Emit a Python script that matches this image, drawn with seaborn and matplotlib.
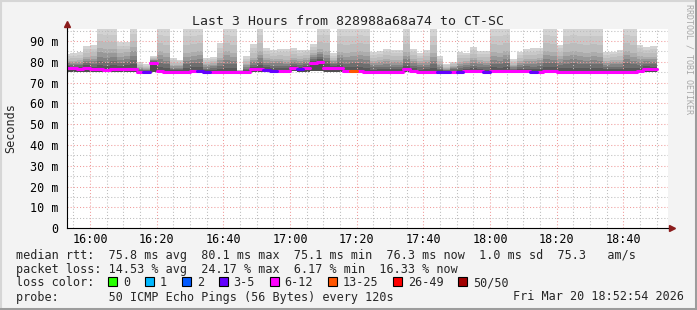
import numpy as np
import pandas as pd
import matplotlib
matplotlib.use("Agg")
import matplotlib.pyplot as plt
import matplotlib.dates as mdates
from matplotlib.patches import Rectangle
from matplotlib.lines import Line2D
from matplotlib.ticker import FuncFormatter, MultipleLocator
import seaborn as sns
from datetime import datetime

# ---------------- data ----------------
day = "2026-03-20"
times = ["15:52", "15:54", "15:56", "15:58",
         "16:00", "16:02", "16:04", "16:06", "16:08", "16:10", "16:12", "16:14", "16:16", "16:18",
         "16:20", "16:22", "16:24", "16:26", "16:28", "16:30", "16:32", "16:34", "16:36", "16:38",
         "16:40", "16:42", "16:44", "16:46", "16:48", "16:50", "16:52", "16:54", "16:56", "16:58",
         "17:00", "17:02", "17:04", "17:06", "17:08", "17:10", "17:12", "17:14", "17:16", "17:18",
         "17:20", "17:22", "17:24", "17:26", "17:28", "17:30", "17:32", "17:34", "17:36", "17:38",
         "17:40", "17:42", "17:44", "17:46", "17:48", "17:50", "17:52", "17:54", "17:56", "17:58",
         "18:00", "18:02", "18:04", "18:06", "18:08", "18:10", "18:12", "18:14", "18:16", "18:18",
         "18:20", "18:22", "18:24", "18:26", "18:28", "18:30", "18:32", "18:34", "18:36", "18:38",
         "18:40", "18:42", "18:44", "18:46", "18:48"]

# median rtt per step (ms)
rtt_median = [77.2, 76.9, 76.5, 77.2,
              76.3, 76.3, 76.0, 76.3, 76.3, 76.7, 76.7, 75.2, 75.2, 79.3,
              75.8, 75.2, 75.2, 75.2, 75.2, 75.7, 75.7, 75.2, 75.2, 75.2,
              75.2, 75.2, 75.2, 75.2, 76.3, 76.7, 76.1, 75.8, 75.8, 75.8,
              77.2, 76.7, 76.9, 79.3, 80.1, 77.2, 77.2, 77.2, 75.8, 75.8,
              75.8, 75.2, 75.2, 75.2, 75.2, 75.2, 75.2, 76.3, 75.8, 75.2,
              75.2, 75.2, 75.1, 75.1, 75.2, 75.2, 75.5, 75.5, 75.5, 75.2,
              75.5, 75.5, 75.5, 75.5, 75.5, 75.5, 75.2, 75.2, 75.8, 75.8,
              75.3, 75.3, 75.3, 75.3, 75.3, 75.3, 75.3, 75.3, 75.3, 75.3,
              75.3, 75.3, 75.8, 76.7, 76.3]

# fastest ping per step (ms)
rtt_min = [75.3, 75.2, 75.0, 75.3,
           75.0, 75.0, 74.9, 75.0, 75.0, 75.1, 75.1, 74.8, 74.8, 75.3,
           74.9, 74.8, 74.8, 74.8, 74.8, 74.9, 74.9, 74.8, 74.8, 74.8,
           74.8, 74.8, 74.8, 74.8, 75.0, 75.1, 74.9, 74.9, 74.9, 74.9,
           75.6, 75.2, 75.3, 75.4, 75.6, 75.3, 75.3, 75.3, 74.9, 74.9,
           74.9, 74.8, 74.8, 74.8, 74.8, 74.8, 74.8, 75.0, 74.9, 74.8,
           74.8, 74.8, 74.8, 74.8, 74.8, 74.8, 74.9, 74.9, 74.9, 74.8,
           74.9, 74.9, 74.9, 74.9, 74.9, 74.9, 74.8, 74.8, 74.9, 74.9,
           74.8, 74.8, 74.8, 74.8, 74.8, 74.8, 74.8, 74.8, 74.8, 74.8,
           74.8, 74.8, 74.9, 75.1, 75.0]

# upper edge of the dense part of the smoke (ms)
rtt_p75 = [80.5, 80.5, 80.8, 82.5,
           82.8, 86.5, 86.0, 86.0, 84.0, 84.5, 87.0, 77.5, 77.0, 81.5,
           85.0, 84.0, 78.5, 78.5, 84.0, 84.5, 85.0, 79.0, 79.5, 82.0,
           85.0, 84.0, 75.8, 79.0, 82.0, 85.0, 82.0, 81.5, 81.5, 81.0,
           82.0, 81.5, 82.0, 84.0, 86.0, 85.0, 81.0, 84.5, 84.0, 84.5,
           85.0, 84.5, 80.5, 81.0, 81.5, 81.0, 81.0, 84.5, 81.5, 80.5,
           81.0, 84.0, 79.0, 77.0, 78.0, 80.0, 80.5, 82.0, 81.0, 80.5,
           84.5, 84.0, 85.0, 78.5, 80.5, 81.5, 81.5, 82.0, 85.0, 84.5,
           83.0, 84.5, 85.0, 84.5, 84.0, 84.5, 84.0, 80.5, 81.0, 81.0,
           85.0, 84.0, 83.0, 82.5, 82.5]

# slowest ping per step (ms); 96.5 = off the top of the graph
rtt_max = [83.6, 84.1, 84.5, 87.6,
           88.1, 96.5, 96.5, 96.5, 89.7, 89.4, 96.5, 79.7, 78.8, 82.8,
           96.5, 96.5, 81.7, 81.0, 96.5, 96.5, 96.5, 81.7, 82.5, 89.0,
           96.5, 96.5, 76.1, 82.8, 88.6, 96.5, 86.5, 85.7, 86.2, 86.2,
           86.5, 85.7, 85.7, 88.6, 96.5, 96.5, 84.0, 96.5, 96.5, 96.5,
           96.5, 96.5, 84.9, 85.2, 86.2, 85.7, 85.7, 96.5, 86.2, 84.1,
           85.7, 96.5, 82.8, 79.0, 80.1, 84.9, 84.4, 87.2, 85.2, 85.2,
           96.5, 96.5, 96.5, 81.4, 84.9, 86.2, 86.5, 86.8, 96.5, 96.5,
           88.1, 96.5, 96.5, 96.5, 96.5, 96.5, 96.5, 84.9, 84.9, 85.7,
           96.5, 96.5, 88.1, 87.0, 87.6]

# lost pings per step, as loss-colour class
loss_class = ["6-12", "6-12", "6-12", "6-12",
              "6-12", "6-12", "6-12", "6-12", "6-12", "6-12", "6-12", "6-12", "3-5", "6-12",
              "6-12", "6-12", "6-12", "6-12", "6-12", "6-12", "3-5", "3-5", "6-12", "6-12",
              "6-12", "6-12", "6-12", "6-12", "6-12", "6-12", "3-5", "3-5", "6-12", "6-12",
              "6-12", "3-5", "6-12", "6-12", "6-12", "6-12", "6-12", "6-12", "6-12", "13-25",
              "6-12", "6-12", "6-12", "6-12", "6-12", "6-12", "6-12", "6-12", "6-12", "6-12",
              "6-12", "6-12", "3-5", "3-5", "6-12", "3-5", "6-12", "6-12", "6-12", "3-5",
              "6-12", "6-12", "6-12", "6-12", "6-12", "6-12", "3-5", "6-12", "6-12", "6-12",
              "6-12", "6-12", "6-12", "6-12", "6-12", "6-12", "6-12", "6-12", "6-12", "6-12",
              "6-12", "6-12", "6-12", "6-12", "6-12"]

loss_labels = ["0", "1", "2", "3-5", "6-12", "13-25", "26-49", "50/50"]
loss_colors = ["#26ff00", "#00b8ff", "#0059ff", "#6400ff", "#ff00ff", "#ff5500", "#ff0000", "#a10000"]

yticks_ms = [0, 10, 20, 30, 40, 50, 60, 70, 80, 90]

title = "Last 3 Hours from 828988a68a74 to CT-SC"
stat_rtt = "median rtt:  75.8 ms avg  80.1 ms max  75.1 ms min  76.3 ms now  1.0 ms sd  75.3   am/s"
stat_loss = "packet loss: 14.53 % avg  24.17 % max  6.17 % min  16.33 % now"
stat_color = "loss color:"
stat_probe = "probe:       50 ICMP Echo Pings (56 Bytes) every 120s"
stamp = "Fri Mar 20 18:52:54 2026"
step_minutes = 2

# ---------------- style ----------------
sns.set_style("white")
plt.rcParams["font.family"] = ["DejaVu Sans Mono", "DejaVu Sans"]
plt.rcParams["axes.unicode_minus"] = False

W, H = 697, 310
fig = plt.figure(figsize=(W / 100, H / 100), dpi=100)
fig.patch.set_facecolor("#f3f3f3")

ax_l, ax_r, ax_t, ax_b = 67, 668.3, 29.3, 228.3
ax = fig.add_axes([ax_l / W, 1 - ax_b / H, (ax_r - ax_l) / W, (ax_b - ax_t) / H])
ax.set_facecolor("white")

x = mdates.date2num(pd.to_datetime([f"{day} {t}" for t in times]))
step = step_minutes / 1440.0
med = np.array(rtt_median)
lo = np.array(rtt_min)
p75 = np.array(rtt_p75)
hi = np.array(rtt_max)

# ---------------- smoke ----------------
bands = [
    (lo, med, ["#4e4e4e"]),
    (med, p75, ["#595959", "#6e6e6e", "#838383", "#989898", "#acacac"]),
    (p75, hi, ["#bcbcbc", "#c8c8c8", "#d3d3d3"]),
]
for b0, b1, shades in bands:
    n = len(shades)
    for k, col in enumerate(shades):
        bot = b0 + (b1 - b0) * k / n
        top = b0 + (b1 - b0) * (k + 1) / n
        ax.bar(x, top - bot, bottom=bot, width=step, align="edge",
               color=col, linewidth=0, zorder=1)

# ---------------- median line coloured by loss ----------------
seg_rows = []
for i, (xs, m, c) in enumerate(zip(x, rtt_median, loss_class)):
    seg_rows.append((i, xs, m, c))
    seg_rows.append((i, xs + step, m, c))
seg_df = pd.DataFrame(seg_rows, columns=["seg", "x", "median", "loss"])
palette = dict(zip(loss_labels, loss_colors))
sns.lineplot(data=seg_df, x="x", y="median", hue="loss", units="seg",
             estimator=None, palette=palette, linewidth=2.2, legend=False,
             sort=False, ax=ax, zorder=4)

# ---------------- axes, grid ----------------
ax.set_xlim(mdates.date2num(datetime(2026, 3, 20, 15, 53, 6)),
            mdates.date2num(datetime(2026, 3, 20, 18, 53, 30)))
ax.set_ylim(0, 95.6)
ax.xaxis.set_major_locator(mdates.MinuteLocator(byminute=[0, 20, 40]))
ax.xaxis.set_minor_locator(mdates.MinuteLocator(byminute=range(0, 60, 5)))
ax.xaxis.set_major_formatter(mdates.DateFormatter("%H:%M"))
ax.set_yticks(yticks_ms)
ax.yaxis.set_minor_locator(MultipleLocator(5))
ax.yaxis.set_major_formatter(FuncFormatter(lambda v, p: "0" if v == 0 else f"{int(v)} m"))

dot = (0, (1, 2))
ax.grid(which="major", color="#f09a9a", linestyle=dot, linewidth=0.75, zorder=2)
ax.grid(which="minor", color="#bdbdbd", linestyle=dot, linewidth=0.75, zorder=2)
ax.set_axisbelow(False)

ax.set_xlabel("")
ax.set_ylabel("")
for s in ["top", "right"]:
    ax.spines[s].set_visible(False)
for s in ["left", "bottom"]:
    ax.spines[s].set_color("black")
    ax.spines[s].set_linewidth(0.8)
    ax.spines[s].set_zorder(6)

ax.tick_params(axis="x", which="major", length=2, width=0.75, color="#d07070",
               pad=1.6, labelsize=8.45, labelcolor="black", direction="out")
ax.tick_params(axis="x", which="minor", length=2, width=0.75, color="#b0b0b0", direction="out")
ax.tick_params(axis="y", which="major", length=3, width=0.75, color="#d07070",
               pad=3.0, labelsize=8.45, labelcolor="black", direction="out")
ax.tick_params(axis="y", which="minor", length=2, width=0.75, color="#b0b0b0", direction="out")

# axis extensions and arrows
ax.plot([1.0, 1.006], [0, 0], color="black", lw=0.8, transform=ax.transAxes, clip_on=False, zorder=6)
ax.plot([0, 0], [1.0, 1.02], color="black", lw=0.8, transform=ax.transAxes, clip_on=False, zorder=6)
ax.plot([1.0065], [0], marker=">", ms=4.2, color="#8b1c1c", mec="#8b1c1c",
        transform=ax.transAxes, clip_on=False, zorder=7)
ax.plot([0], [1.025], marker="^", ms=4.2, color="#8b1c1c", mec="#8b1c1c",
        transform=ax.transAxes, clip_on=False, zorder=7)

# ---------------- texts ----------------
def fx(px):
    return px / W

def fy(py):
    return 1 - py / H

mono = ["DejaVu Sans Mono", "DejaVu Sans"]
fig.text(fx(348), fy(25), title, ha="center", va="baseline", fontsize=9.5, family=mono)
fig.text(fx(11), fy(128.5), "Seconds", ha="center", va="center", rotation=90,
         fontsize=8.45, family=mono)
fig.text(fx(688.5), fy(4), "RRDTOOL / TOBI OETIKER", ha="center", va="top", rotation=270,
         fontsize=6.0, color="#a8a8a8", family=mono)

cw = 7.09
x0 = 16
fs = 8.45
fig.text(fx(x0), fy(258.5), stat_rtt, ha="left", va="baseline", fontsize=fs, family=mono)
fig.text(fx(x0), fy(272.5), stat_loss, ha="left", va="baseline", fontsize=fs, family=mono)
fig.text(fx(x0), fy(286.5), stat_color, ha="left", va="baseline", fontsize=fs, family=mono)
fig.text(fx(x0), fy(300.5), stat_probe, ha="left", va="baseline", fontsize=fs, family=mono)
fig.text(fx(513), fy(300.5), stamp, ha="left", va="baseline", fontsize=fs, family=mono)

pos = 13.0
for lab, col in zip(loss_labels, loss_colors):
    bx = x0 + pos * cw
    fig.patches.append(Rectangle((fx(bx), fy(285.5)), 9 / W, 9 / H, transform=fig.transFigure,
                                 facecolor=col, edgecolor="black", linewidth=0.8))
    lp = pos + 2.1
    fig.text(fx(x0 + lp * cw), fy(286.5), lab, ha="left", va="baseline", fontsize=fs, family=mono)
    pos = lp + len(lab) + 2.1

# ---------------- frame ----------------
fig.lines.append(Line2D([0, 1], [1 - 0.5 / H, 1 - 0.5 / H], transform=fig.transFigure, color="#d6d6d6", lw=1.5))
fig.lines.append(Line2D([0.5 / W, 0.5 / W], [0, 1], transform=fig.transFigure, color="#d6d6d6", lw=1.5))
fig.lines.append(Line2D([0, 1], [1.5 / H, 1.5 / H], transform=fig.transFigure, color="#9c9c9c", lw=2.2))
fig.lines.append(Line2D([1 - 1.5 / W, 1 - 1.5 / W], [0, 1], transform=fig.transFigure, color="#9c9c9c", lw=2.2))

fig.savefig("out.png", dpi=100, facecolor=fig.get_facecolor())
